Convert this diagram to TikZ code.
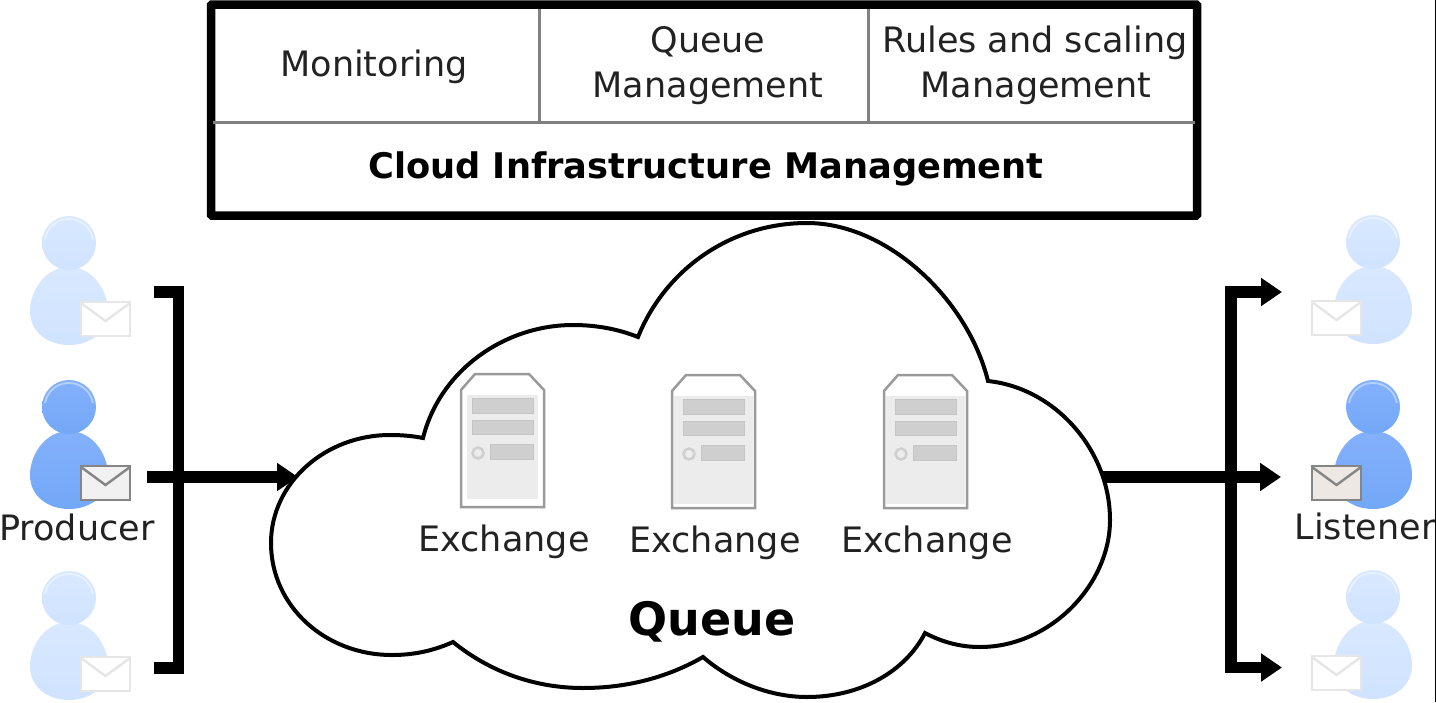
\documentclass[tikz,border=0pt]{standalone}
\usepackage{fontspec}
\setmainfont{DejaVu Sans}
\usetikzlibrary{arrows.meta}
\definecolor{inkdark}{HTML}{222222}
\definecolor{rulegray}{HTML}{808080}
\definecolor{srvedge}{HTML}{9A9A9A}
\definecolor{srvfill}{HTML}{ECECEC}
\definecolor{slotfill}{HTML}{CFCFCF}
\definecolor{slotedge}{HTML}{C4C4C4}
\definecolor{fadetop}{HTML}{D8E8FF}
\definecolor{fadebot}{HTML}{D0E3FF}
\definecolor{faderim}{HTML}{E8F1FF}
\definecolor{fadeedge}{HTML}{E6E6E6}
\definecolor{fulltop}{HTML}{84B0FB}
\definecolor{fullbot}{HTML}{72A8F8}
\definecolor{fullrim}{HTML}{B4D0FD}
\definecolor{fulledge}{HTML}{858585}
\definecolor{envleft}{HTML}{F1F1F1}
\definecolor{envright}{HTML}{EDE8E4}
\tikzset{
  label35/.style={font=\fontsize{35}{45}\selectfont,text=inkdark,align=center,anchor=base,inner sep=0pt,outer sep=0pt},
  boldlabel/.style={font=\fontsize{35.25}{40}\selectfont\bfseries,text=black,anchor=base,inner sep=0pt,outer sep=0pt},
  fatline/.style={line width=11.5pt,black,line join=miter},
  fatarrow/.style={fatline,-{Triangle[length=21pt,width=27pt]}},
  slot/.style={fill=slotfill,draw=slotedge,line width=1pt},
}
% \personfig{cx}{cy}{env left}{body top}{body bottom}{rim}{env fill}{env edge}
\newcommand{\personfig}[8]{%
  \begin{scope}[shift={(#1,#2)}]
    \shade[top color=#4,bottom color=#5]
      (0,24) .. controls (-24,24) and (-39,48) .. (-39,68)
      .. controls (-39,90) and (-20,102) .. (0,102)
      .. controls (20,102) and (39,90) .. (39,68)
      .. controls (39,48) and (24,24) .. (0,24) -- cycle;
    \shade[top color=#4,bottom color=#5] (0,0) circle (27);
    \draw[#6,line width=1.8pt] (-24,-4) arc[start angle=-170,end angle=-10,radius=24.3];
    \fill[#7,draw=#8,line width=2.6pt] (#3,59) rectangle ++(49,34);
    \draw[#8,line width=2.4pt] (#3,60) -- ++(24.5,18) -- ++(24.5,-18);
  \end{scope}}
\newcommand{\serverfig}[3]{%
  \begin{scope}[shift={(#1,#2)}]
    \fill[white,draw=srvedge,line width=2.5pt] (14,0) -- (68,0) -- (83,16) -- (83,133) -- (0,133) -- (0,16) -- cycle;
    \fill[srvfill] (#3,21) rectangle (83-#3,128-#3+3);
    \filldraw[slot] (11,24) rectangle (72,39);
    \filldraw[slot] (11,46) rectangle (72,60);
    \filldraw[slot] (29,70) rectangle (72,85);
    \draw[slotfill,fill=srvfill,line width=2.5pt] (17,79) circle (5.5);
  \end{scope}}
\begin{document}
\begin{tikzpicture}[x=1pt,y=-1pt]
\useasboundingbox (0,0) rectangle (1436,702);
\fill[white] (0,0) rectangle (1436,702);

% management table
\node[draw=black,line width=8.5pt,minimum width=986pt,minimum height=211pt,inner sep=0pt,outer sep=0pt,rounded corners=1pt] (mgmt) at (704,110) {};
\coordinate (rowL) at (213,122);
\coordinate (rowR) at (1195,122);
\coordinate (colA) at (539,9);
\coordinate (colAb) at (539,122);
\coordinate (colB) at (868,9);
\coordinate (colBb) at (868,122);
\draw[rulegray,line width=3pt] (rowL) -- (rowR);
\draw[rulegray,line width=3pt] (colA) -- (colAb);
\draw[rulegray,line width=3pt] (colB) -- (colBb);
\node[label35] (mon) at (374,76) {Monitoring};
\node[label35] (qm1) at (708,52) {Queue};
\node[label35] (qm2) at (708,97) {Management};
\node[label35] (rs1) at (1035,52) {Rules and scaling};
\node[label35] (rs2) at (1036,97) {Management};
\node[boldlabel] (cim) at (706,178) {Cloud Infrastructure Management};

% cloud
\path[draw=black,fill=white,line width=4pt,line join=miter]
  (453,642) .. controls (433,651) and (413,655) .. (392,655)
  .. controls (325,655) and (271,606) .. (271,543)
  .. controls (271,483) and (325,435) .. (390,435)
  .. controls (402,435) and (413,436) .. (423,438)
  .. controls (440,370) and (505,325) .. (573,325)
  .. controls (596,325) and (618,329) .. (638,337)
  .. controls (665,270) and (730,223) .. (807,223)
  .. controls (888,223) and (968,300) .. (988,381)
  .. controls (1055,388) and (1110,450) .. (1110,520)
  .. controls (1110,585) and (1050,647) .. (980,647)
  .. controls (960,647) and (942,642) .. (925,633)
  .. controls (905,672) and (860,697) .. (807,697)
  .. controls (770,697) and (732,682) .. (703,657)
  .. controls (670,676) and (630,688) .. (583,688)
  .. controls (535,688) and (490,672) .. (453,642)
  -- cycle;

% servers
\serverfig{461}{374}{6}
\serverfig{672}{375}{2}
\serverfig{884}{375}{2}
\node[label35] (ex1) at (504,551) {Exchange};
\node[label35] (ex2) at (715,552) {Exchange};
\node[label35] (ex3) at (927,552) {Exchange};
\node[font=\fontsize{46}{50}\selectfont\bfseries,text=black,anchor=base,inner sep=0pt] (queue) at (712,635) {Queue};

% producers
\personfig{69}{243}{12}{fadetop}{fadebot}{faderim}{white}{fadeedge}
\personfig{69}{407}{12}{fulltop}{fullbot}{fullrim}{envleft}{fulledge}
\personfig{69}{598}{12}{fadetop}{fadebot}{faderim}{white}{fadeedge}
\node[label35] (prod) at (77,540) {Producer};

% listeners
\personfig{1373}{242}{-61}{fadetop}{fadebot}{faderim}{white}{fadeedge}
\personfig{1373}{407}{-61}{fulltop}{fullbot}{fullrim}{envright}{fulledge}
\personfig{1373}{597}{-61}{fadetop}{fadebot}{faderim}{white}{fadeedge}
\node[label35] (list) at (1365,539) {Listener};

% connectors
\coordinate (inTop) at (154,292);
\coordinate (inTopC) at (178.5,292);
\coordinate (inBotC) at (178.5,668);
\coordinate (inBot) at (154,668);
\coordinate (inStart) at (147,477);
\coordinate (cloudW) at (298,477);
\coordinate (cloudE) at (1103,477);
\coordinate (outTopC) at (1231,292);
\coordinate (outBotC) at (1231,667.5);
\coordinate (outTop) at (1282,292);
\coordinate (outMid) at (1281,477);
\coordinate (outBot) at (1282,667.5);
\coordinate (busTop) at (1231,286.25);
\coordinate (busBot) at (1231,673.25);
\draw[fatline] (inTop) -- (inTopC) -- (inBotC) -- (inBot);
\draw[fatarrow] (inStart) -- (cloudW);
\draw[fatarrow] (cloudE) -- (outMid);
\draw[fatarrow] (outBotC) -- (outBot);
\draw[fatarrow] (outTopC) -- (outTop);
\draw[fatline] (busTop) -- (busBot);

% dark edge of the picture
\fill[black] (1434.8,0) rectangle (1436,702);
\end{tikzpicture}
\end{document}
